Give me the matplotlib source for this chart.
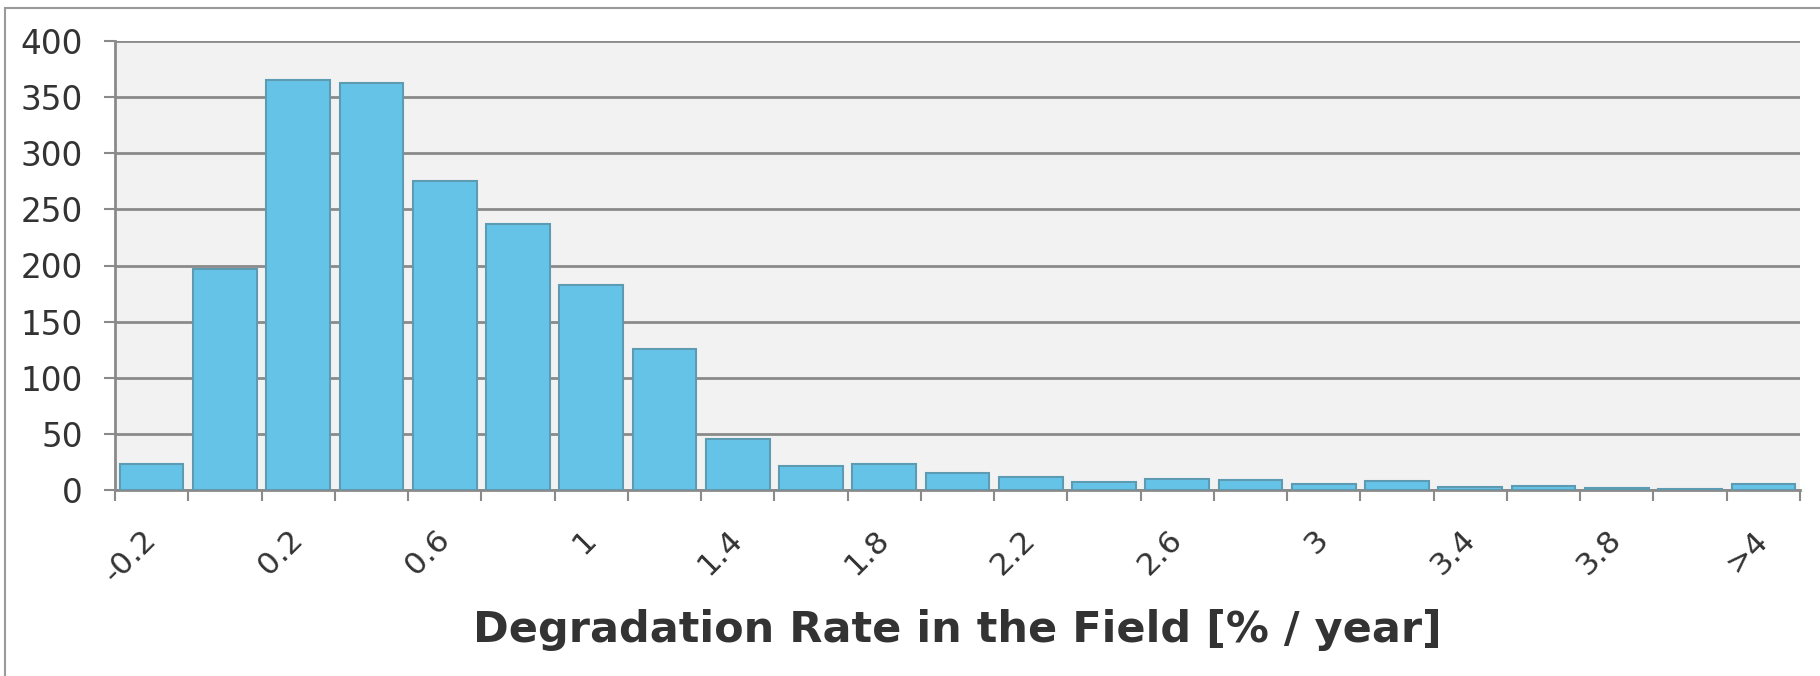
import numpy as np
import matplotlib.pyplot as plt
from matplotlib.patches import Rectangle
from matplotlib.transforms import ScaledTranslation

# bins of the degradation rate, one bar each (only every other one is labelled)
bins = ["-0.2", "0", "0.2", "0.4", "0.6", "0.8", "1", "1.2", "1.4", "1.6", "1.8",
        "2", "2.2", "2.4", "2.6", "2.8", "3", "3.2", "3.4", "3.6", "3.8", "4", ">4"]
counts = [23, 197, 365, 363, 275, 237, 183, 126, 45, 21, 23, 15, 12, 7, 10, 9,
          5, 8, 3, 4, 2, 1, 5]
yticks = [0, 50, 100, 150, 200, 250, 300, 350, 400]

grey = "#8a8a8a"
text_c = "#333333"

fig = plt.figure(figsize=(18.2, 6.76), dpi=100)
ax = fig.add_axes([115 / 1820, 1 - 490 / 676, 1685 / 1820, 449 / 676])
ax.set_facecolor("#f2f2f2")

x = np.arange(len(bins))
ax.bar(x, counts, width=0.87, color="#66c3e8", edgecolor="#5d9bb2",
       linewidth=1.5, zorder=3)

ax.set_xlim(-0.5, len(bins) - 0.5)
ax.set_ylim(0, 400)
ax.set_yticks(yticks)
ax.set_yticklabels([str(v) for v in yticks])
ax.grid(axis="y", color=grey, linewidth=2, zorder=0)
ax.set_axisbelow(True)

# labels on every other bar, tick marks between the bars
ax.set_xticks(x[::2])
ax.set_xticklabels(bins[::2], rotation=45, ha="right", rotation_mode="anchor")
ax.set_xticks(np.arange(-0.5, len(bins), 1), minor=True)
ax.tick_params(axis="x", which="major", length=0, pad=25, labelsize=22.5,
               labelcolor=text_c)
ax.tick_params(axis="x", which="minor", length=8, width=1.5, color=grey)
ax.tick_params(axis="y", length=8, width=1.5, color=grey, labelsize=23.5,
               labelcolor=text_c, pad=15)

# nudge the rotated labels a bit to the left
shift = ScaledTranslation(-10 / 100, 0, fig.dpi_scale_trans)
for lab in ax.get_xticklabels():
    lab.set_transform(lab.get_transform() + shift)

for s in ["top", "right"]:
    ax.spines[s].set_visible(False)
for s in ["left", "bottom"]:
    ax.spines[s].set_color(grey)
    ax.spines[s].set_linewidth(2)

ax.set_xlabel("Degradation Rate in the Field [% / year]", fontsize=31,
              fontweight="bold", color=text_c, labelpad=15)

# outer frame of the chart
fig.patches.append(Rectangle((5 / 1820, -0.1), 1.2, 1.1 - 8 / 676,
                             transform=fig.transFigure, fill=False,
                             edgecolor="#9a9a9a", linewidth=1.5))

fig.savefig("out.png", dpi=100)
